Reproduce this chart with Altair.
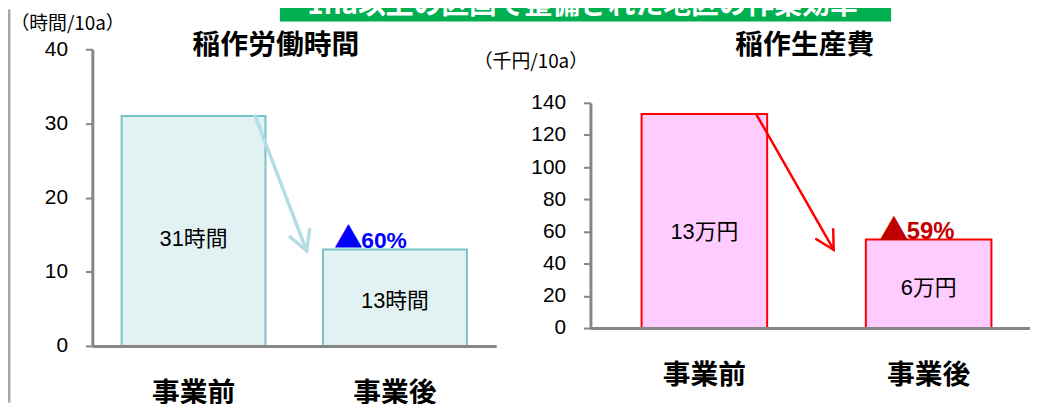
import altair as alt
import pandas as pd

# ---- data ----
categories = ["事業前", "事業後"]
labor_hours = [31, 13]
labor_labels = ["31時間", "13時間"]
labor_pct = ["", "60%"]
cost_thousand = [133, 55]
cost_labels = ["13万円", "6万円"]
cost_pct = ["", "59%"]
triangle = "▲"
left_title = "稲作労働時間"
right_title = "稲作生産費"
left_unit = "（時間/10a）"
right_unit = "（千円/10a）"
banner_text = "1ha以上の区画で整備された地区の作業効率"
left_ticks = [0, 10, 20, 30, 40]
right_ticks = [0, 20, 40, 60, 80, 100, 120, 140]

left_df = pd.DataFrame({"cat": categories, "value": labor_hours,
                        "label": labor_labels, "pct": labor_pct})
right_df = pd.DataFrame({"cat": categories, "value": cost_thousand,
                         "label": cost_labels, "pct": cost_pct})
dummy = pd.DataFrame({"k": [0]})

W, H = 1030, 396
GRAY = "#868686"
CJK = "Noto Sans CJK JP"
MIX = "Liberation Sans, Noto Sans CJK JP"


def yaxis(values, off):
    return alt.Axis(orient="left", offset=off, values=values, grid=False,
                    domainColor=GRAY, domainWidth=3, tickColor=GRAY,
                    tickWidth=2, tickSize=7, labelFont="Liberation Sans",
                    labelFontSize=21, labelColor="#000000", labelPadding=18,
                    title=None, zindex=1)


def xaxis(off):
    return alt.Axis(orient="bottom", offset=off, grid=False, ticks=False,
                    tickSize=0, domainColor=GRAY, domainWidth=3,
                    labelFont=CJK, labelFontSize=28, labelFontWeight="bold",
                    labelColor="#000000", labelPadding=34, labelAngle=0,
                    title=None, zindex=1)


def panel(df, xscale, yscale, xoff, yoff, ticks, fill, stroke, arrow_color,
          arrow_w, pct_color, pct_size, pct_dx, tri_dx, pct_dy, mid_frac,
          a_start, a_gap, a_tip_val, head_angle, head_size):
    def X(**kw):
        return alt.X("cat:N", sort=categories, scale=xscale, axis=xaxis(xoff), **kw)

    def Y(field="value:Q"):
        return alt.Y(field, scale=yscale, axis=yaxis(ticks, yoff))

    base = alt.Chart(df)
    bars = base.mark_bar(fill=fill, stroke=stroke, strokeWidth=2).encode(x=X(), y=Y())
    labels = base.transform_calculate(mid=f"datum.value * {mid_frac}").mark_text(
        font=MIX, fontSize=22, color="#000000", baseline="middle"
    ).encode(x=X(), y=Y("mid:Q"), text="label:N")
    marked = base.transform_filter(alt.datum.pct != "")
    pct = marked.mark_text(
        font="Liberation Sans", fontSize=pct_size, fontWeight="bold", color=pct_color,
        baseline="alphabetic", dx=pct_dx, dy=pct_dy
    ).encode(x=X(), y=Y(), text="pct:N")
    tri = marked.mark_text(
        text=triangle, font=CJK, fontSize=pct_size + 6, color=pct_color,
        baseline="alphabetic", dx=tri_dx, dy=pct_dy + 1
    ).encode(x=X(), y=Y())
    first = base.transform_filter(alt.datum.cat == categories[0])
    arrow = first.mark_rule(color=arrow_color, strokeWidth=arrow_w, strokeCap="round",
                            x2Offset=a_gap).encode(
        x=X(bandPosition=a_start),
        x2=alt.X2("cat", bandPosition=1),
        y=Y(),
        y2=alt.datum(a_tip_val),
    )
    head = first.mark_point(
        shape="M-0.55,-1L0,0L0.55,-1", filled=False, stroke=arrow_color,
        strokeWidth=arrow_w, size=head_size, angle=head_angle, opacity=1,
        strokeCap="round", strokeJoin="miter", xOffset=a_gap
    ).encode(x=X(bandPosition=1), y=alt.Y(datum=a_tip_val, scale=yscale, axis=yaxis(ticks, yoff)))
    return alt.layer(bars, arrow, head, labels, pct, tri)


left = panel(
    left_df,
    alt.Scale(range=[85, 492], paddingInner=0.2857, paddingOuter=0.1453, align=0.5),
    alt.Scale(domain=[0, 40], range=[339, 40], nice=False),
    -57, -85, left_ticks, "#E2F2F2", "#79C2C7", "#B4DEE4", 3.5,
    "#0000FF", 23, -11, -47, -2, 0.465, 0.928, 41.5, 12.8, 339, 1480,
)
right = panel(
    right_df,
    alt.Scale(range=[587, 1030], paddingInner=0.44, paddingOuter=0.2, align=0.57),
    alt.Scale(domain=[0, 140], range=[321, 94], nice=False),
    -75, -587, right_ticks, "#FFCCFF", "#FF0000", "#FF0000", 2.5,
    "#C00000", 24, 2, -35, -1, 0.45, 0.912, 67, 48.7, 330, 1300,
)

deco = alt.Chart(dummy)
banner = deco.mark_rect(color="#00B050").encode(
    x=alt.value(274), x2=alt.value(890), y=alt.value(-8), y2=alt.value(12))
banner_t = deco.mark_text(text=banner_text, font=CJK, fontSize=28, fontWeight="bold",
                          color="#FFFFFF", baseline="alphabetic", align="center").encode(
    x=alt.value(579), y=alt.value(4))
border = deco.mark_rule(color="#A6A6A6", strokeWidth=3).encode(
    x=alt.value(1), y=alt.value(0), y2=alt.value(H))


def txt(t, x, y, size, bold):
    kw = dict(text=t, font=CJK, fontSize=size, color="#000000",
              baseline="middle", align="center")
    if bold:
        kw["fontWeight"] = "bold"
    return deco.mark_text(**kw).encode(x=alt.value(x), y=alt.value(y))


titles = [
    txt(left_title, 270, 37, 28, True),
    txt(right_title, 803, 37, 28, True),
    txt(left_unit, 60, 15, 19, False),
    txt(right_unit, 527, 53, 19, False),
]

chart = alt.layer(border, banner, banner_t, left, right, *titles).resolve_scale(
    x="independent", y="independent"
).properties(
    width=W, height=H, autosize=alt.AutoSizeParams(type="none"), padding=0
).configure_view(stroke=None)

chart.save("out.html", embed_options={"renderer": "svg", "actions": False})
